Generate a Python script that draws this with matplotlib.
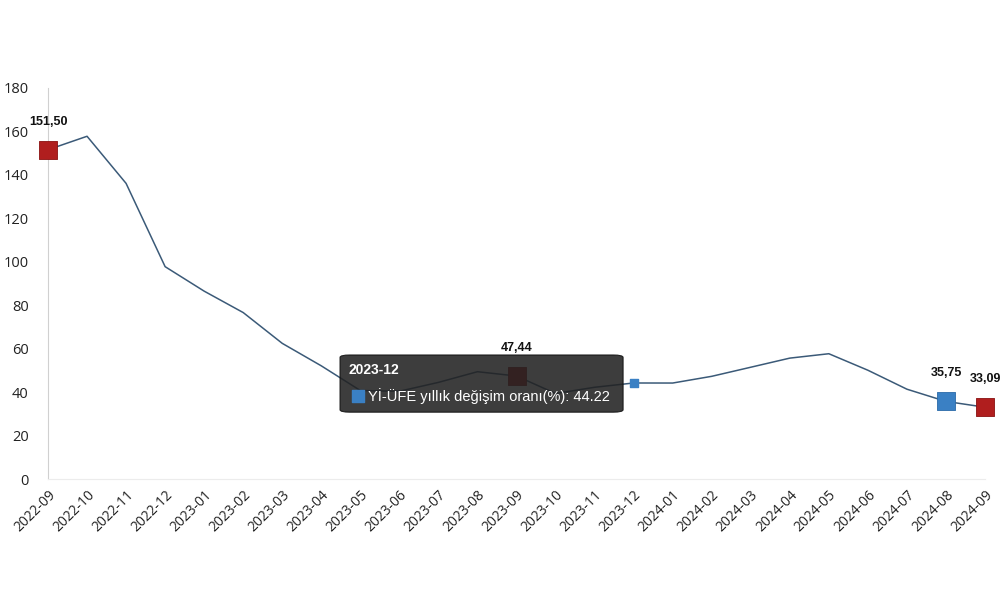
import matplotlib.pyplot as plt
from matplotlib.patches import FancyBboxPatch

months = ["2022-09", "2022-10", "2022-11", "2022-12", "2023-01", "2023-02",
          "2023-03", "2023-04", "2023-05", "2023-06", "2023-07", "2023-08",
          "2023-09", "2023-10", "2023-11", "2023-12", "2024-01", "2024-02",
          "2024-03", "2024-04", "2024-05", "2024-06", "2024-07", "2024-08",
          "2024-09"]
ufe = [151.50, 157.69, 136.02, 97.72, 86.46, 76.61, 62.45, 52.11, 40.76,
       40.42, 44.50, 49.41, 47.44, 39.39, 42.25, 44.22, 44.20, 47.29, 51.47,
       55.66, 57.68, 50.09, 41.37, 35.75, 33.09]

red_idx = [0, 12, 24]
blue_idx = [23]
label_idx = [0, 12, 23, 24]
hover_idx = 15
series_name = "Yİ-ÜFE yıllık değişim oranı(%)"

line_c = "#3b5a78"
red_c = "#b01e1e"
blue_c = "#3a80c4"

fig = plt.figure(figsize=(10, 5.93), dpi=100)
ax = fig.add_axes([0.048, 0.192, 0.937, 0.66])
x = list(range(len(months)))

ax.plot(x, ufe, color=line_c, lw=1.1, zorder=2)
ax.scatter([x[i] for i in red_idx], [ufe[i] for i in red_idx], marker="s",
           s=150, color=red_c, edgecolor="#8a1010", lw=0.6, zorder=3,
           clip_on=False)
ax.scatter([x[i] for i in blue_idx], [ufe[i] for i in blue_idx], marker="s",
           s=150, color=blue_c, edgecolor="#2a6aa8", lw=0.6, zorder=3,
           clip_on=False)
ax.scatter([x[hover_idx]], [ufe[hover_idx]], marker="s", s=40,
           color=blue_c, zorder=6)

for i in label_idx:
    ax.annotate(f"{ufe[i]:.2f}".replace(".", ","), (x[i], ufe[i]),
                xytext=(0, 22), textcoords="offset pixels", ha="center",
                va="bottom", fontsize=9, fontweight="bold",
                family="Liberation Sans", color="#111", zorder=7)

# tooltip
box = FancyBboxPatch((7.48, 30.8), 7.25, 26.3,
                     boxstyle="round,pad=0,rounding_size=0.25",
                     mutation_aspect=4.5, facecolor="#222222", alpha=0.88,
                     edgecolor="#111111", lw=0.8, zorder=5)
ax.add_patch(box)
ax.text(7.7, 50.3, months[hover_idx], color="white", fontsize=10,
        fontweight="bold", family="Liberation Sans", va="center", zorder=6)
ax.scatter([7.95], [38.3], marker="s", s=70, color=blue_c, zorder=6)
ax.text(8.2, 38.3, f"{series_name}: {ufe[hover_idx]:.2f}", color="white",
        fontsize=10.5, family="Liberation Sans", va="center", zorder=6)

ax.set_xlim(0, 24)
ax.set_ylim(0, 180)
ax.set_yticks(range(0, 181, 20))
ax.set_xticks(x)
ax.set_xticklabels(months, rotation=45, ha="right", rotation_mode="anchor",
                   fontsize=10, family="Open Sans", color="#222")
for t in ax.get_yticklabels():
    t.set_fontsize(10.5)
    t.set_family("Open Sans")
    t.set_color("#222")
ax.tick_params(length=0, pad=14, axis="y")
ax.tick_params(length=0, pad=6, axis="x")
for s in ["top", "right"]:
    ax.spines[s].set_visible(False)
ax.spines["left"].set_color("#d0d0d0")
ax.spines["bottom"].set_color("#ececec")

fig.savefig("out.png", dpi=100)
